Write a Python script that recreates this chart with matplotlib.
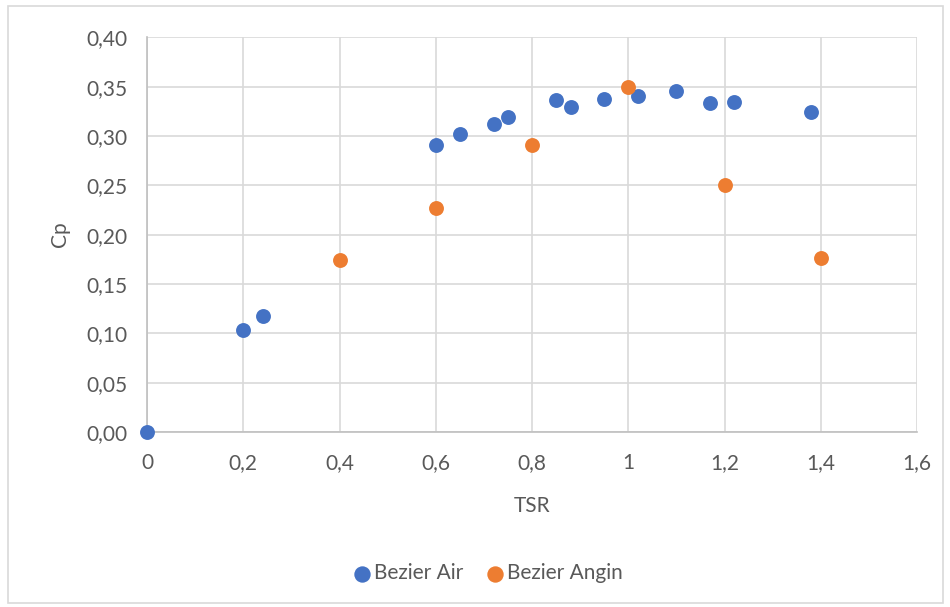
import matplotlib
matplotlib.use("Agg")
import matplotlib.pyplot as plt
from matplotlib.ticker import FuncFormatter, MultipleLocator
from matplotlib.patches import Rectangle

air_tsr = [0.0, 0.2, 0.24, 0.6, 0.65, 0.72, 0.75, 0.85, 0.88, 0.95, 1.02, 1.10, 1.17, 1.22, 1.38]
air_cp = [0.0, 0.103, 0.118, 0.291, 0.302, 0.312, 0.319, 0.336, 0.329, 0.337, 0.341, 0.346, 0.333, 0.334, 0.324]
angin_tsr = [0.4, 0.6, 0.8, 1.0, 1.2, 1.4]
angin_cp = [0.174, 0.227, 0.291, 0.350, 0.250, 0.176]

plt.rcParams['font.family'] = ['Lato', 'DejaVu Sans']
txt = '#595959'
fig = plt.figure(figsize=(9.5, 6.07), dpi=100)
fig.patches.append(Rectangle((8/950, 4/607), 935/950, 597/607, transform=fig.transFigure,
                             fill=False, edgecolor='#D9D9D9', linewidth=1.2))
ax = fig.add_axes([147/950, 1-432/607, 770/950, (432-37.3)/607])

ax.scatter(air_tsr, air_cp, s=115, color='#4472C4', label='Bezier Air', zorder=3, linewidths=0)
ax.scatter(angin_tsr, angin_cp, s=115, color='#ED7D31', label='Bezier Angin', zorder=3, linewidths=0)

ax.set_xlim(0, 1.6)
ax.set_ylim(0, 0.40)
ax.xaxis.set_major_locator(MultipleLocator(0.2))
ax.yaxis.set_major_locator(MultipleLocator(0.05))
ax.xaxis.set_major_formatter(FuncFormatter(lambda v, p: ('%g' % round(v, 2)).replace('.', ',')))
ax.yaxis.set_major_formatter(FuncFormatter(lambda v, p: ('%.2f' % v).replace('.', ',')))
ax.grid(True, color='#D9D9D9', linewidth=1.2, zorder=0)
ax.set_axisbelow(True)
for s in ['top', 'right']:
    ax.spines[s].set_visible(False)
for s in ['left', 'bottom']:
    ax.spines[s].set_color('#BFBFBF')
    ax.spines[s].set_linewidth(1.2)
ax.tick_params(length=0, labelsize=15, labelcolor=txt)
ax.tick_params(axis='y', pad=14)
ax.tick_params(axis='x', pad=15)
ax.set_xlabel('TSR', fontsize=15, color=txt, labelpad=17)
ax.set_ylabel('Cp', fontsize=15, color=txt, labelpad=12)
for c in ax.collections:
    c.set_clip_on(False)

fig.legend(loc='center', bbox_to_anchor=(482/950, 1-573/607), ncol=2, frameon=False,
           fontsize=15, labelcolor=txt, handletextpad=-0.45, columnspacing=0.55, markerscale=1.1)
fig.savefig('out.png', dpi=100)
